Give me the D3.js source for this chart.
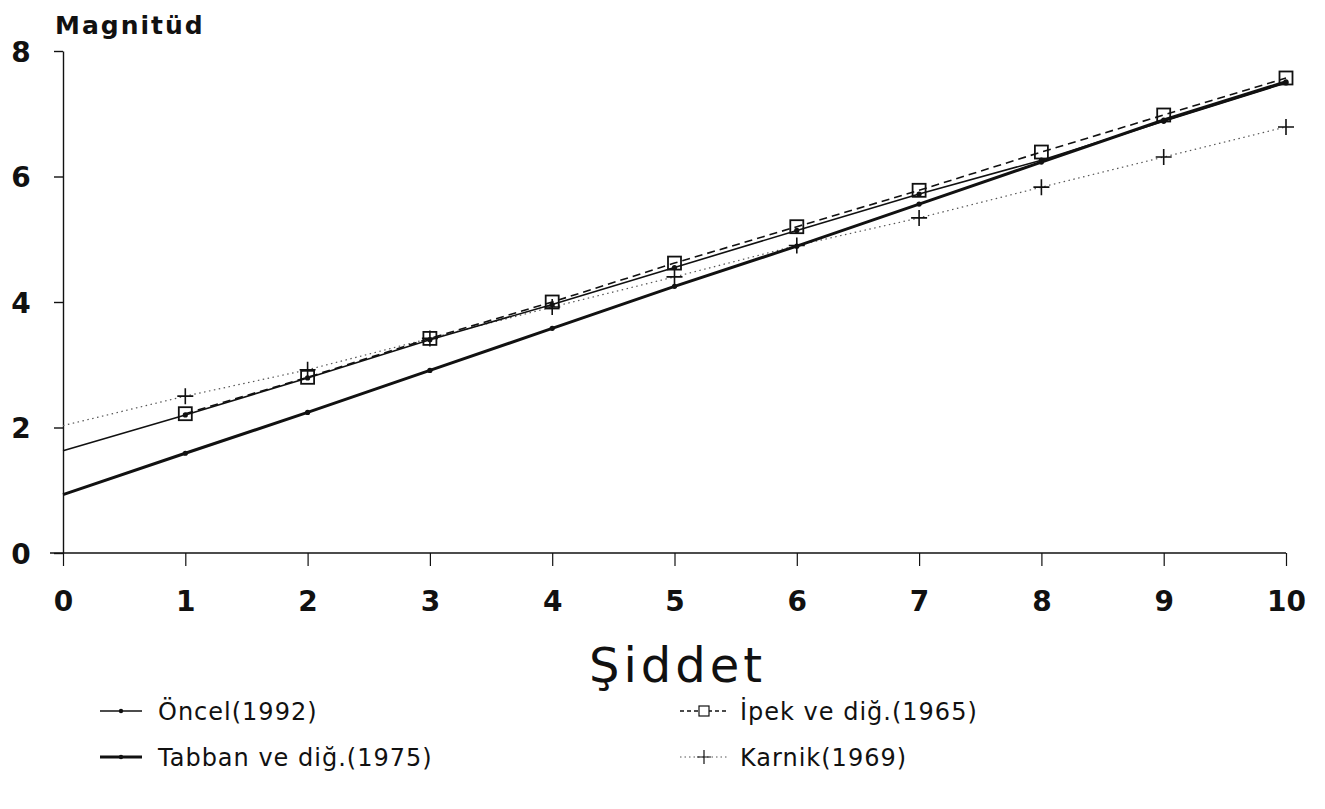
<!DOCTYPE html>
<html>
<head>
<meta charset="utf-8">
<script src="https://cdn.jsdelivr.net/npm/d3@7"></script>
<style>
  body { margin: 0; background: #fff; }
  text { font-family: "DejaVu Sans", "Liberation Sans", sans-serif; fill: #111; }
</style>
</head>
<body>
<div id="chart"></div>
<script>
// intensity (Şiddet) values on the x axis
var intensity = [0, 1, 2, 3, 4, 5, 6, 7, 8, 9, 10];
var ipekIntensity = [1, 2, 3, 4, 5, 6, 7, 8, 9, 10];

// magnitude for each relation
var oncel  = [1.63, 2.2, 2.79, 3.4, 3.96, 4.55, 5.14, 5.72, 6.26, 6.88, 7.49];
var tabban = [0.93, 1.59, 2.24, 2.91, 3.58, 4.25, 4.89, 5.56, 6.23, 6.9, 7.51];
var ipek   = [2.22, 2.8, 3.42, 4.0, 4.62, 5.2, 5.78, 6.39, 6.98, 7.57];
var karnik = [2.03, 2.5, 2.92, 3.42, 3.92, 4.4, 4.9, 5.34, 5.83, 6.31, 6.79];

var xTicks = [0, 1, 2, 3, 4, 5, 6, 7, 8, 9, 10];
var yTicks = [0, 2, 4, 6, 8];

var W = 1325, H = 809;
var svg = d3.select("#chart").append("svg")
  .attr("width", W).attr("height", H);

var x = d3.scaleLinear().domain([0, 10]).range([63, 1286]);
var y = d3.scaleLinear().domain([0, 8]).range([553, 51]);

// axes
var yAxis = svg.append("g")
  .attr("transform", "translate(" + x(0) + ",0)")
  .call(d3.axisLeft(y).tickValues(yTicks).tickSize(9).tickSizeOuter(0));
yAxis.select(".domain").attr("stroke", "#111").attr("stroke-width", 1.4);
yAxis.selectAll(".tick line").attr("stroke", "#111").attr("stroke-width", 1.4);
yAxis.selectAll("text")
  .style("font-size", "28px").style("font-weight", "bold")
  .attr("text-anchor", "middle").attr("x", -42).attr("dy", "0.37em");

var xAxis = svg.append("g")
  .attr("transform", "translate(0," + y(0) + ")")
  .call(d3.axisBottom(x).tickValues(xTicks).tickSize(13).tickSizeOuter(0).tickPadding(25));
xAxis.select(".domain").attr("stroke", "#111").attr("stroke-width", 1.4)
  .attr("d", "M50,0H" + x(10));
xAxis.selectAll(".tick line").attr("stroke", "#111").attr("stroke-width", 1.2);
xAxis.selectAll("text")
  .style("font-size", "28px").style("font-weight", "bold");

// axis titles
svg.append("text").attr("x", 55).attr("y", 34)
  .style("font-size", "25px").style("font-weight", "bold").style("letter-spacing", "2px")
  .text("Magnitüd");
svg.append("text").attr("x", x(5) + 3).attr("y", 682).attr("text-anchor", "middle")
  .style("font-size", "48px").style("letter-spacing", "4px")
  .text("Şiddet");

function pts(xs, ys) { return xs.map(function(d, i) { return [d, ys[i]]; }); }
var line = d3.line().x(function(d) { return x(d[0]); }).y(function(d) { return y(d[1]); });

// Karnik: dotted with plus markers
var karnikPts = pts(intensity, karnik);
svg.append("path").datum(karnikPts).attr("d", line)
  .attr("fill", "none").attr("stroke", "#555").attr("stroke-width", 1.2)
  .attr("stroke-dasharray", "1.5,3.5");

// Ipek: dashed with squares
var ipekPts = pts(ipekIntensity, ipek);
svg.append("path").datum(ipekPts).attr("d", line)
  .attr("fill", "none").attr("stroke", "#111").attr("stroke-width", 1.6)
  .attr("stroke-dasharray", "8,5");

// Oncel: thin solid
var oncelPts = pts(intensity, oncel);
svg.append("path").datum(oncelPts).attr("d", line)
  .attr("fill", "none").attr("stroke", "#111").attr("stroke-width", 1.6);

// Tabban: thick solid
var tabbanPts = pts(intensity, tabban);
svg.append("path").datum(tabbanPts).attr("d", line)
  .attr("fill", "none").attr("stroke", "#111").attr("stroke-width", 3);

// markers
svg.append("g").selectAll("rect").data(ipekPts).enter().append("rect")
  .attr("x", function(d) { return x(d[0]) - 6.5; })
  .attr("y", function(d) { return y(d[1]) - 6.5; })
  .attr("width", 13).attr("height", 13)
  .attr("fill", "none").attr("stroke", "#111").attr("stroke-width", 1.8);

svg.append("g").selectAll("path").data(karnikPts.slice(1)).enter().append("path")
  .attr("d", "M-8,0H8M0,-8V8")
  .attr("transform", function(d) { return "translate(" + x(d[0]) + "," + y(d[1]) + ")"; })
  .attr("stroke", "#111").attr("stroke-width", 1.6);

svg.append("g").selectAll("circle").data(oncelPts.slice(1).concat(tabbanPts.slice(1))).enter()
  .append("circle")
  .attr("cx", function(d) { return x(d[0]); })
  .attr("cy", function(d) { return y(d[1]); })
  .attr("r", 2.6).attr("fill", "#111");

// legend
var legend = [
  { name: "Öncel(1992)", col: 0, row: 0, width: 1.6, dash: null, mark: "dot" },
  { name: "Tabban ve diğ.(1975)", col: 0, row: 1, width: 3, dash: null, mark: "dot" },
  { name: "İpek ve diğ.(1965)", col: 1, row: 0, width: 1.3, dash: "4,3", mark: "square" },
  { name: "Karnik(1969)", col: 1, row: 1, width: 1, dash: "1.5,3", mark: "plus" }
];
var lg = svg.append("g").selectAll("g").data(legend).enter().append("g")
  .attr("transform", function(d) {
    return "translate(" + (d.col ? 680 : 100) + "," + (d.row ? 757 : 711) + ")";
  });
lg.append("line").attr("x1", 0).attr("x2", function(d) { return d.col ? 48 : 42; })
  .attr("stroke", function(d) { return d.mark === "plus" ? "#555" : "#111"; })
  .attr("stroke-width", function(d) { return d.width; })
  .attr("stroke-dasharray", function(d) { return d.dash; });
lg.filter(function(d) { return d.mark === "dot"; }).append("circle")
  .attr("cx", 21).attr("r", 2.2).attr("fill", "#111");
lg.filter(function(d) { return d.mark === "square"; }).append("rect")
  .attr("x", 19).attr("y", -5).attr("width", 10).attr("height", 10)
  .attr("fill", "#fff").attr("stroke", "#111").attr("stroke-width", 1.2);
lg.filter(function(d) { return d.mark === "plus"; }).append("path")
  .attr("d", "M24,-7V7M17,0H31").attr("stroke", "#111").attr("stroke-width", 1.2);
lg.append("text")
  .attr("x", function(d) { return d.col ? 60 : 58; })
  .attr("dy", "0.36em")
  .style("font-size", "24px").style("letter-spacing", "1px")
  .text(function(d) { return d.name; });
</script>
</body>
</html>
